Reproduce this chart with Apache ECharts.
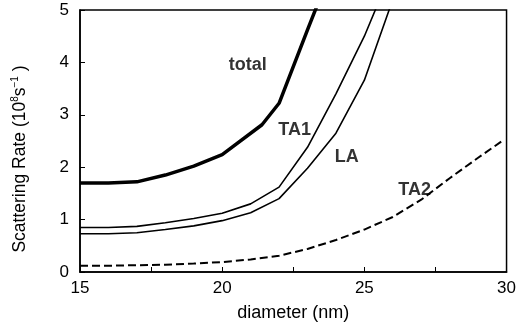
<!DOCTYPE html>
<html>
<head>
<meta charset="utf-8">
<script src="https://cdn.jsdelivr.net/npm/echarts@6/dist/echarts.min.js"></script>
<style>
  html, body { margin: 0; padding: 0; background: #fff; }
  #main { width: 519px; height: 328px; }
</style>
</head>
<body>
<div id="main"></div>
<script>
// diameter (nm) -> scattering rate (10^8 s^-1)
const totalData = [[15, 1.70], [16, 1.70], [17, 1.72], [18, 1.85], [19, 2.02], [20, 2.24],
  [21.4, 2.81], [22, 3.22], [23, 4.62], [24, 6.0]];
const ta1Data = [[15, 0.85], [16, 0.85], [17, 0.87], [18, 0.94], [19, 1.02], [20, 1.12],
  [21, 1.30], [22, 1.62], [23, 2.38], [24, 3.40], [25, 4.50], [26, 5.8]];
const laData = [[15, 0.73], [16, 0.73], [17, 0.75], [18, 0.81], [19, 0.88], [20, 0.98],
  [21, 1.13], [22, 1.40], [23, 1.98], [24, 2.65], [25, 3.66], [26, 5.2]];
const ta2Data = [[15, 0.12], [16, 0.12], [17, 0.13], [18, 0.14], [19, 0.16], [20, 0.19],
  [21, 0.24], [22, 0.31], [23, 0.44], [24, 0.61], [25, 0.81], [26, 1.05], [27, 1.38],
  [28, 1.79], [29, 2.18], [29.9, 2.52]];

// curve name labels, anchored in data coordinates
const curveLabels = [
  { name: 'total', value: [20.9, 3.95] },
  { name: 'TA1', value: [22.55, 2.71] },
  { name: 'LA', value: [24.38, 2.20] },
  { name: 'TA2', value: [26.77, 1.57] }
];

const font = 'Liberation Sans, Arial, Helvetica, sans-serif';

const chart = echarts.init(document.getElementById('main'), null, { renderer: 'canvas' });

function lineSeries(name, data, width, type) {
  return {
    name: name,
    type: 'line',
    data: data,
    showSymbol: false,
    symbol: 'none',
    smooth: false,
    clip: true,
    lineStyle: { color: '#000', width: width, type: type || 'solid' },
    silent: true
  };
}

chart.setOption({
  animation: false,
  backgroundColor: '#fff',
  grid: {
    left: 80, right: 9, top: 10, bottom: 56,
    show: true, borderColor: '#000', borderWidth: 1.5, backgroundColor: 'transparent'
  },
  xAxis: {
    type: 'value',
    min: 15, max: 30, interval: 2.5,
    name: 'diameter (nm)',
    nameLocation: 'middle',
    nameGap: 32,
    nameTextStyle: { fontFamily: font, fontSize: 18, color: '#000' },
    axisLine: { lineStyle: { color: '#000', width: 1.5 } },
    axisTick: { inside: true, length: 5, lineStyle: { color: '#000', width: 1 } },
    axisLabel: {
      fontFamily: font, fontSize: 17, color: '#000', margin: 8,
      formatter: function (v) { return v % 5 === 0 ? String(v) : ''; }
    },
    splitLine: { show: false }
  },
  yAxis: {
    type: 'value',
    min: 0, max: 5, interval: 1,
    axisLine: { lineStyle: { color: '#000', width: 1.5 } },
    axisTick: { inside: true, length: 5, lineStyle: { color: '#000', width: 1 } },
    axisLabel: { fontFamily: font, fontSize: 17, color: '#000', margin: 11 },
    splitLine: { show: false }
  },
  graphic: [{
    type: 'text',
    x: 20, y: 159,
    rotation: Math.PI / 2,
    style: {
      text: '{m|Scattering Rate (10}{s|8}{m|s}{s|−1}{m| )}',
      align: 'center',
      verticalAlign: 'middle',
      rich: {
        m: { fontFamily: font, fontSize: 17.5, color: '#000', lineHeight: 20 },
        s: { fontFamily: font, fontSize: 10, color: '#000', lineHeight: 20, verticalAlign: 'top', padding: [0, 0, 8, 0] }
      }
    }
  }],
  series: [
    lineSeries('total', totalData, 3.5),
    lineSeries('TA1', ta1Data, 1.6),
    lineSeries('LA', laData, 1.6),
    lineSeries('TA2', ta2Data, 2, [8, 4]),
    {
      type: 'scatter',
      data: curveLabels,
      symbolSize: 0,
      silent: true,
      label: {
        show: true,
        position: 'inside',
        formatter: '{b}',
        fontFamily: font,
        fontWeight: 'bold',
        fontSize: 18,
        color: '#000'
      }
    }
  ]
});
</script>
</body>
</html>
